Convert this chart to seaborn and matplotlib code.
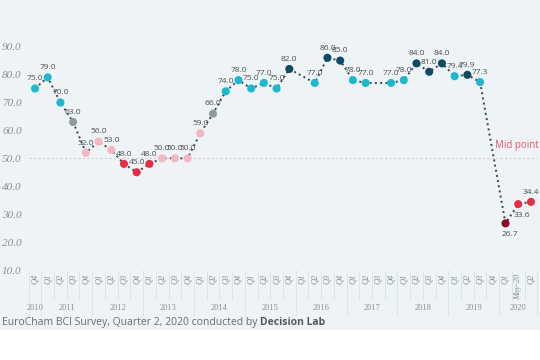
import numpy as np
import pandas as pd
import matplotlib
matplotlib.use('Agg')
from matplotlib import pyplot as plt
from matplotlib.patches import Rectangle
import seaborn as sns

quarters = ['Q4'] + ['Q1', 'Q2', 'Q3', 'Q4'] * 9 + ['Q1', 'May-20', 'Q2']
years = ['2010'] + [str(y) for y in range(2011, 2020) for _ in range(4)] + ['2020'] * 3
bci = [75.0, 79.0, 70.0, 63.0, 52.0, 56.0, 53.0, 48.0, 45.0, 48.0,
       50.0, 50.0, 50.0, 59.0, 66.0, 74.0, 78.0, 75.0, 77.0, 75.0,
       82.0, np.nan, 77.0, 86.0, 85.0, 78.0, 77.0, np.nan, 77.0, 78.0,
       84.0, 81.0, 84.0, 79.4, 79.9, 77.3, np.nan, 26.7, 33.6, 34.4]
below = [37, 38]  # points whose label sits under the marker

band_colors = {
    'high': '#0e4a61',
    'good': '#1bb8ce',
    'mid': '#8e9a9f',
    'low': '#f5b5c1',
    'bad': '#e62d48',
    'worst': '#8a0b22',
}


def band(v):
    if v >= 79.5:
        return 'high'
    if v >= 70:
        return 'good'
    if v >= 60:
        return 'mid'
    if v >= 50:
        return 'low'
    if v >= 30:
        return 'bad'
    return 'worst'


df = pd.DataFrame({'idx': range(len(bci)), 'quarter': quarters, 'year': years, 'bci': bci})
valid = df.dropna().copy()
valid['band'] = valid['bci'].apply(band)

sns.set_theme(style='white')
plt.rcParams['font.family'] = ['Open Sans', 'DejaVu Sans']

bg = '#eef3f6'
fig = plt.figure(figsize=(5.4, 3.6), dpi=100, facecolor='white')
fig.patches.append(Rectangle((0, 30 / 360), 1, 330 / 360, transform=fig.transFigure,
                             facecolor=bg, edgecolor='none', zorder=-10))
ax = fig.add_axes([0.053, 0.25, 0.942, 0.667])
ax.set_facecolor('none')

ax.axhline(50, color='#c9d0d4', lw=0.8, ls=(0, (2, 2)), zorder=1)
ax.text(36.2, 54.5, 'Mid point', color='#e8566f', fontsize=7, ha='left', va='center', clip_on=False)

sns.lineplot(data=valid, x='idx', y='bci', color='#3a464c', lw=1.4,
             linestyle=(0, (1, 1.7)), ax=ax, zorder=2)
sns.scatterplot(data=valid, x='idx', y='bci', hue='band', palette=band_colors, s=34,
                edgecolor='none', legend=False, ax=ax, zorder=3)

for _, row in valid.iterrows():
    if row['idx'] in below:
        off = (3, -8)
    else:
        off = (0, 7)
    ax.annotate(f"{row['bci']:.1f}", (row['idx'], row['bci']), xytext=off,
                textcoords='offset points', ha='center', va='center',
                fontsize=6, color='#4a4f52', zorder=4)

ax.set_xlim(-0.5, len(bci) - 0.5)
ax.set_ylim(10, 96)
ax.set_yticks(range(10, 100, 10))
ax.set_yticklabels([f'{v:.1f}' for v in range(10, 100, 10)], family='Liberation Serif',
                   style='italic', fontsize=8, color='#8a8f92')
ax.set_xticks(df['idx'])
ax.set_xticklabels(quarters, rotation=90, family='Liberation Serif', style='italic',
                   fontsize=6, color='#8a8f92')
ax.tick_params(length=0, pad=3)
ax.tick_params(axis='y', pad=5)
ax.set_xlabel('')
ax.set_ylabel('')
sns.despine(ax=ax, left=True, bottom=True)

# separators under the axis
trans = ax.get_xaxis_transform()
ax.vlines([i - 0.5 for i in range(len(bci) + 1)], -0.125, 0, transform=trans,
          color='#dde4e8', lw=0.7, clip_on=False)
bounds = [-0.5] + [df[df['year'] == y]['idx'].max() + 0.5 for y in df['year'].unique()]
ax.vlines(bounds, -0.19, 0, transform=trans, color='#dde4e8', lw=0.7, clip_on=False)

for y in df['year'].unique():
    center = df[df['year'] == y]['idx'].mean()
    ax.annotate(y, (center, 0), xycoords=trans, xytext=(0, -27.5), textcoords='offset points',
                ha='center', va='center', family='Liberation Serif', fontsize=6, color='#8a8f92')

t1 = fig.text(0.004, 0.103, 'EuroCham BCI Survey, Quarter 2, 2020 conducted by ',
              fontsize=7.5, color='#666b6e', va='center', ha='left')
ax.annotate('Decision Lab', xy=(1, 0.5), xycoords=t1, va='center', ha='left',
            fontsize=7.5, color='#555a5d', fontweight='bold', annotation_clip=False)

fig.savefig('out.png', dpi=100, facecolor='white')
